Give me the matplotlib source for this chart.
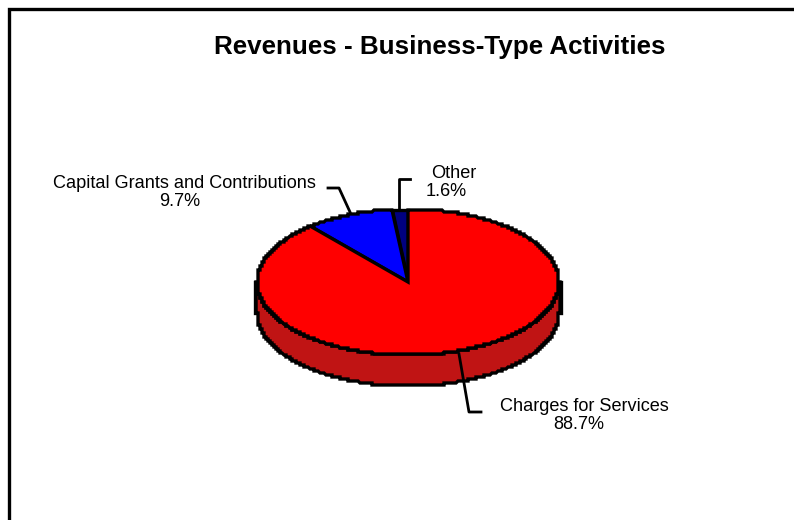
import numpy as np
import matplotlib
matplotlib.use('Agg')
import matplotlib.pyplot as plt

plt.rcParams['font.family'] = ['Liberation Sans', 'DejaVu Sans']

# Data
labels = ['Other', 'Capital Grants and Contributions', 'Charges for Services']
values = [1.6, 9.7, 88.7]
colors = ['#000080', '#0000FF', '#FF0000']
title = 'Revenues - Business-Type Activities'

W, H = 794, 520
cx, cy, rx, ry, depth = 408, 282, 151, 73, 31
STEP = 2


def rim(a0, a1, dy=0):
    # Elliptical arc snapped to a coarse grid, gives the stepped edge of the original
    t = np.radians(np.linspace(a0, a1, max(int(abs(a1 - a0) * 6), 2)))
    x = cx + np.round(rx * np.cos(t) / STEP) * STEP
    y = cy + dy - np.round(ry * np.sin(t) / STEP) * STEP
    return x, y


fig = plt.figure(figsize=(W / 100, H / 100), dpi=100, facecolor='white')

ax = fig.add_axes([0, 0, 1, 1])
ax.set_xlim(0, W)
ax.set_ylim(H, 0)
ax.axis('off')

# Frame is open on the right and bottom
ax.plot([9, 9, W], [H, 9, 9], color='black', lw=2.4, solid_joinstyle='miter')

# Side wall of the pie
x_low, y_low = rim(180, 360, depth)
x_up, y_up = rim(360, 180)
ax.fill(np.r_[x_low, x_up], np.r_[y_low, y_up], facecolor='#C01414', edgecolor='black',
        lw=2.4, joinstyle='miter')
ax.plot([cx - rx - 2] * 2, [cy, cy + depth], color='black', lw=2.4)
ax.plot([cx + rx + 2] * 2, [cy, cy + depth], color='black', lw=2.4)

# Top of the pie, counter clockwise from twelve o'clock
angles = 90 + 360 * np.r_[0, np.cumsum(values)] / np.sum(values)
for i in range(len(values)):
    x_arc, y_arc = rim(angles[i], angles[i + 1])
    ax.fill(np.r_[cx, x_arc], np.r_[cy, y_arc], facecolor=colors[i], edgecolor='black',
            lw=2.4, joinstyle='miter')

# Leader lines
ax.plot([350, 339, 328], [212, 188, 188], color='black', lw=2)
ax.plot([399, 399, 410], [209, 179, 179], color='black', lw=2)
ax.plot([459, 469, 481], [354, 412, 412], color='black', lw=2)

# Labels
ax.text(440, 47, title, fontsize=18.75, fontweight='bold', ha='center', va='center')
ax.text(184, 188, labels[1], fontsize=13.1, ha='center', va='baseline')
ax.text(180, 206, f'{values[1]}%', fontsize=13.1, ha='center', va='baseline')
ax.text(454, 178, labels[0], fontsize=13.1, ha='center', va='baseline')
ax.text(446.5, 196, f'{values[0]}%', fontsize=13.1, ha='center', va='baseline')
ax.text(584, 411, labels[2], fontsize=13.1, ha='center', va='baseline')
ax.text(579, 429, f'{values[2]}%', fontsize=13.1, ha='center', va='baseline')

fig.savefig('out.png', dpi=100)
